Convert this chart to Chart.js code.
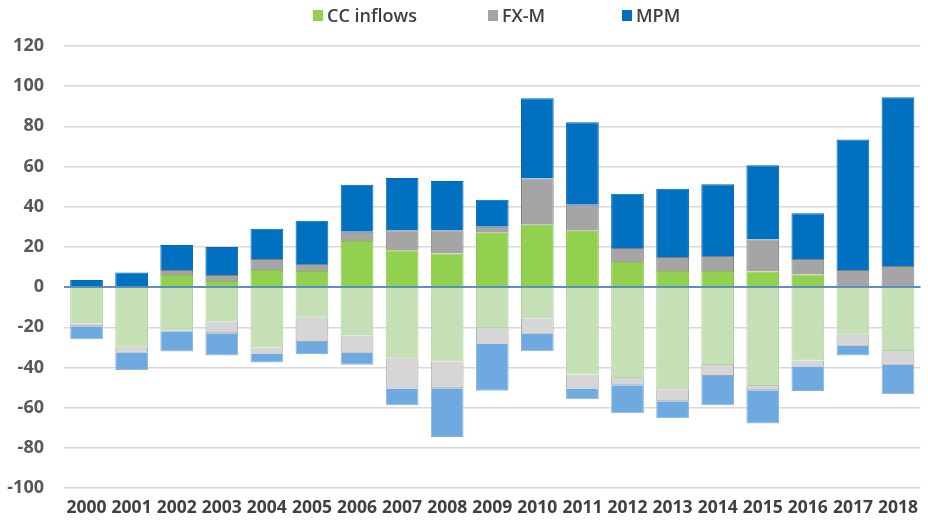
<!DOCTYPE html>
<html>
<head>
<meta charset="utf-8">
<script src="https://cdn.jsdelivr.net/npm/chart.js@4/dist/chart.umd.min.js"></script>
<style>
    body { margin: 0; background: #fff; }
    #wrap { position: relative; width: 928px; height: 527px; }
    #legend {
        position: absolute; left: 313px; top: 3px;
        display: flex;
        font-family: 'Open Sans', sans-serif; font-weight: 600; font-size: 18px;
        color: #404040; line-height: 24px;
    }
    #legend .item { display: flex; align-items: center; }
    #legend .item:nth-child(1) { width: 175px; }
    #legend .item:nth-child(2) { width: 134px; }
    #legend .box { width: 10px; height: 11px; margin-right: 4px; }
</style>
</head>
<body>
<div id="wrap">
    <canvas id="flowChart" width="928" height="527"></canvas>
    <div id="legend"></div>
</div>
<script>
// Capital flow components by year (positive and negative parts)
const years = ['2000', '2001', '2002', '2003', '2004', '2005', '2006', '2007', '2008', '2009',
    '2010', '2011', '2012', '2013', '2014', '2015', '2016', '2017', '2018'];

const ccInflowsPos = [0, 0, 6, 3, 8.5, 8, 23, 18.3, 16.7, 27, 31, 28, 12.5, 8, 8, 7.7, 6.3, 0, 0.5];
const fxmPos = [0, 0, 2.5, 3, 5.5, 3.5, 4.5, 10, 11.6, 3, 23, 13, 7, 7, 7.5, 16, 7.7, 8.5, 10];
const mpmPos = [3.5, 7.3, 12.5, 14, 15, 21.5, 23.5, 26, 24.5, 13.5, 40, 41, 27, 34, 35.7, 37, 22.8, 65, 84];

const ccInflowsNeg = [-18, -29.7, -21.5, -17, -30, -15.3, -24, -35.7, -37, -20.3, -15.5, -43.5, -45.3, -50.8, -38.8, -49.2, -36.5, -23.7, -31.8];
const fxmNeg = [-1.5, -3, -0.5, -6, -3, -12, -8.7, -14.8, -13.3, -7.8, -7.7, -7, -3.5, -6, -5.5, -2.2, -3, -5.5, -6.8];
const mpmNeg = [-6.5, -8.6, -10, -11, -4.5, -6, -6, -8.3, -24.3, -23.5, -8.7, -5.3, -14, -8.5, -14.5, -16.5, -12.2, -4.8, -14.7];

const yTicks = [120, 100, 80, 60, 40, 20, 0, -20, -40, -60, -80, -100];

// Zero line is drawn on top of the bars
const zeroLine = {
    id: 'zeroLine',
    afterDatasetsDraw(chart) {
        const { ctx, chartArea, scales } = chart;
        const y = scales.y.getPixelForValue(0);
        ctx.save();
        ctx.strokeStyle = '#2e75b6';
        ctx.lineWidth = 1.5;
        ctx.beginPath();
        ctx.moveTo(chartArea.left, y);
        ctx.lineTo(chartArea.right, y);
        ctx.stroke();
        ctx.restore();
    }
};

function makeSet(label, data, color, border, inLegend) {
    return {
        label: label,
        data: data,
        backgroundColor: color,
        borderColor: border,
        borderWidth: 1,
        stack: 'flows',
        inLegend: inLegend
    };
}

const ctx = document.getElementById('flowChart').getContext('2d');
const chart = new Chart(ctx, {
    type: 'bar',
    data: {
        labels: years,
        datasets: [
            makeSet('CC inflows', ccInflowsPos, '#92d050', '#86c044', true),
            makeSet('FX-M', fxmPos, '#a5a5a5', '#7f7f7f', true),
            makeSet('MPM', mpmPos, '#0070c0', '#0068b4', true),
            makeSet('CC inflows (neg)', ccInflowsNeg, '#c5e0b4', '#b5d0a4', false),
            makeSet('FX-M (neg)', fxmNeg, '#d6d6d6', '#a6a6a6', false),
            makeSet('MPM (neg)', mpmNeg, '#6eaadf', '#8cb4d8', false)
        ]
    },
    options: {
        responsive: false,
        animation: false,
        layout: { padding: { left: 0, right: 0, top: 46, bottom: 0 } },
        datasets: {
            bar: { categoryPercentage: 1, barPercentage: 0.726 }
        },
        plugins: {
            tooltip: { enabled: false },
            legend: { display: false }
        },
        scales: {
            x: {
                stacked: true,
                grid: { display: false, drawTicks: false },
                border: { display: false },
                afterFit: (axis) => {
                    axis.height = 39;
                },
                ticks: {
                    color: '#404040',
                    maxRotation: 0,
                    autoSkip: false,
                    padding: 10,
                    font: { family: 'Open Sans', size: 17.5, weight: 'bold' }
                }
            },
            y: {
                stacked: true,
                min: -100,
                max: 120,
                afterBuildTicks: (axis) => {
                    axis.ticks = yTicks.map(v => ({ value: v }));
                },
                afterFit: (axis) => {
                    axis.width = 64;
                },
                grid: { color: '#d9d9d9', lineWidth: 1.5, drawTicks: false },
                border: { display: false },
                ticks: {
                    color: '#595959',
                    padding: 20,
                    font: { family: 'Open Sans', size: 18, weight: 'bold' }
                }
            }
        }
    },
    plugins: [zeroLine]
});

// HTML legend with only the positive-part series
const legendDiv = document.getElementById('legend');
legendDiv.innerHTML = chart.data.datasets
    .filter(ds => ds.inLegend)
    .map(ds => `
        <div class="item">
            <span class="box" style="background:${ds.backgroundColor}"></span>
            <span>${ds.label}</span>
        </div>
    `).join('');
</script>
</body>
</html>
